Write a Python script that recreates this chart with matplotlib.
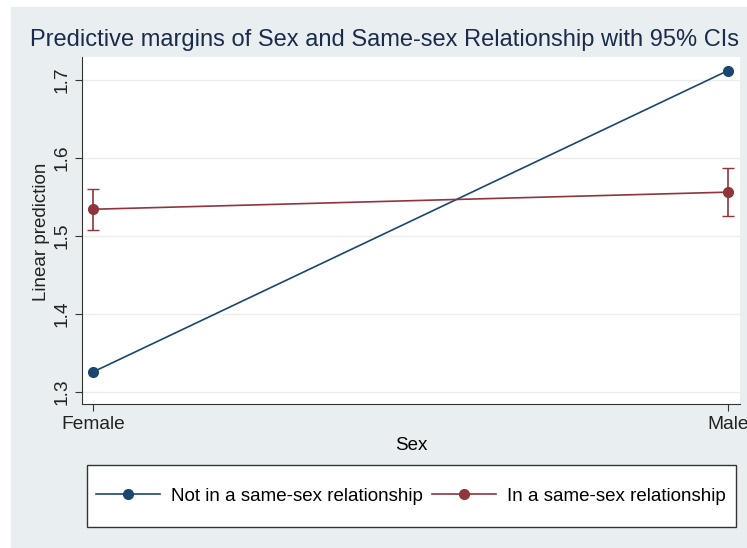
import matplotlib
matplotlib.use("Agg")
import matplotlib.pyplot as plt
from matplotlib.patches import Rectangle

# margins
sex = ["Female", "Male"]
not_same = [1.325, 1.712]
not_same_lo = [1.322, 1.709]
not_same_hi = [1.328, 1.715]
same = [1.534, 1.556]
same_lo = [1.507, 1.526]
same_hi = [1.560, 1.587]
yticks = [1.3, 1.4, 1.5, 1.6, 1.7]

BLUE = "#1a476f"
RED = "#90353b"
BG = "#e9eff1"

plt.rcParams["font.family"] = ["Liberation Sans", "DejaVu Sans"]

W, H = 747, 548
fig = plt.figure(figsize=(W / 100, H / 100), dpi=100)
fig.patch.set_facecolor("white")
# light backdrop with a thin white strip on the left and top
fig.patches.append(Rectangle((11 / W, 0), 1 - 11 / W, 1 - 7 / H,
                             transform=fig.transFigure, color=BG, zorder=-10))

ax = fig.add_axes([82 / W, 1 - 404 / H, (740 - 82) / W, (404 - 57) / H])
ax.set_facecolor("white")


def err(mid, lo, hi):
    return [[m - a for m, a in zip(mid, lo)], [b - m for m, b in zip(mid, hi)]]


x = [0, 1]
ax.errorbar(x, not_same, yerr=err(not_same, not_same_lo, not_same_hi),
            color=BLUE, marker="o", ms=7, lw=1.2, capsize=0, elinewidth=1.2,
            label="Not in a same-sex relationship", zorder=3)
ax.errorbar(x, same, yerr=err(same, same_lo, same_hi),
            color=RED, marker="o", ms=7, lw=1.2, capsize=4.5, elinewidth=1.2,
            label="In a same-sex relationship", zorder=3)

ax.set_xlim(-0.017, 1.019)
ax.set_ylim(1.284, 1.7295)
ax.set_xticks(x)
ax.set_xticklabels(sex, fontsize=13.8)
ax.set_yticks(yticks)
ax.set_yticklabels([str(t) for t in yticks], fontsize=13.8, rotation=90, va="center")
ax.yaxis.grid(True, color="#ececec", lw=1)
ax.set_axisbelow(True)
for s in ["top", "right"]:
    ax.spines[s].set_visible(False)
ax.spines["left"].set_color("#333333")
ax.spines["bottom"].set_color("#333333")
ax.tick_params(color="#333333", length=5, labelcolor="#222222")

ax.set_xlabel("Sex", fontsize=13.5, labelpad=3)
fig.text(41 / W, 1 - 232 / H, "Linear prediction", fontsize=13.5, rotation=90,
         ha="center", va="center", color="#222222")
fig.text(385 / W, 1 - 40 / H,
         "Predictive margins of Sex and Same-sex Relationship with 95% CIs",
         fontsize=17, color="#1a2b4c", ha="center", va="center")

# legend box drawn by hand, text runs right up to its edge as in Stata
fig.patches.append(Rectangle((87 / W, 1 - 527 / H), (736 - 87) / W, 62 / H,
                             transform=fig.transFigure, facecolor="white",
                             edgecolor="#333333", lw=1, zorder=1))
h, l = ax.get_legend_handles_labels()
h = [hh[0] for hh in h]
leg = fig.legend(h, l, loc="center left", bbox_to_anchor=(96 / W, 1 - 496 / H), ncol=2,
                 fontsize=13.5, frameon=False, handlelength=3.4, columnspacing=0.5,
                 borderpad=0, handletextpad=0.6, borderaxespad=0)
leg.set_zorder(2)

fig.savefig("out.png", dpi=100)
